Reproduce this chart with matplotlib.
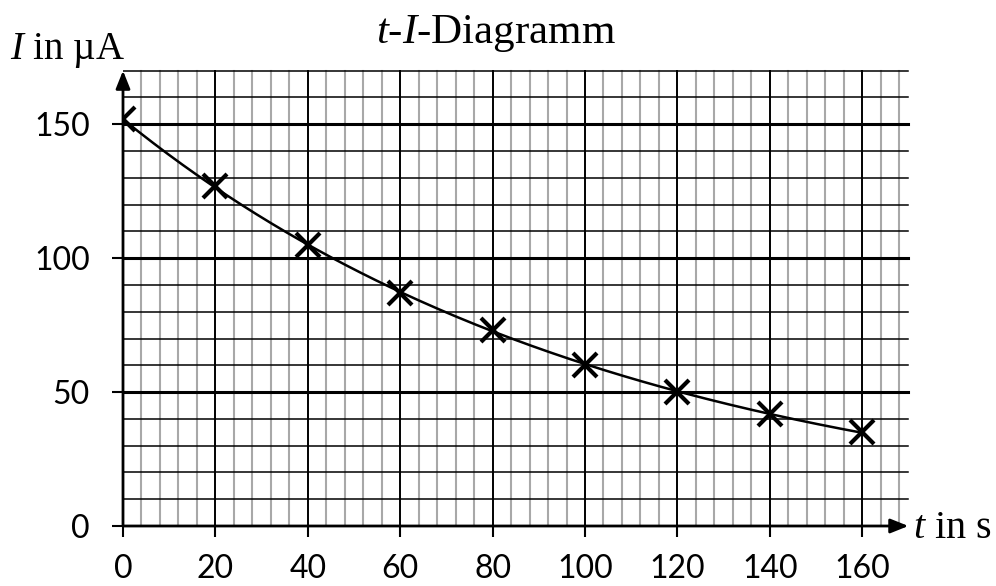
import numpy as np
import matplotlib.pyplot as plt

# measured values
t = np.array([0, 20, 40, 60, 80, 100, 120, 140, 160])
current = np.array([152, 127, 105, 87, 73, 60, 50, 42, 35])

x_ticks = np.arange(0, 161, 20)
y_ticks = [0, 50, 100, 150]

plt.rcParams['mathtext.fontset'] = 'custom'
plt.rcParams['mathtext.rm'] = 'Liberation Serif'
plt.rcParams['mathtext.it'] = 'Liberation Serif:italic'

fig = plt.figure(figsize=(9.96, 5.86), dpi=100)
ax = fig.add_axes([123 / 996, 60 / 586, 790 / 996, 458 / 586])
ax.set_xlim(0, 171)
ax.set_ylim(0, 171)

# grid: vertical lines every 4, bold every 20
for x in np.arange(4, 169, 4):
    if x % 20 == 0:
        ax.plot([x, x], [0, 170], color='black', lw=1.4, zorder=2)
    else:
        ax.plot([x, x], [0, 170], color='#a8a8a8', lw=1.5, zorder=1)
# horizontal lines every 10, thicker every 50
for y in np.arange(10, 171, 10):
    lw = 2.2 if y % 50 == 0 else 1.1
    ax.plot([0, 170], [y, y], color='black', lw=lw, zorder=1.5)

for s in ax.spines.values():
    s.set_visible(False)

# axes with arrows
arrow = dict(arrowstyle='-|>,head_length=0.9,head_width=0.36',
             mutation_scale=12, lw=2, color='black', shrinkA=0, shrinkB=0)
ax.annotate('', xy=(170, 0), xytext=(0, 0), arrowprops=arrow,
            annotation_clip=False)
ax.annotate('', xy=(0, 170), xytext=(0, 0), arrowprops=arrow,
            annotation_clip=False)

ax.set_xticks(x_ticks)
ax.set_yticks(y_ticks)
ax.tick_params(axis='both', direction='out', length=8, width=1.5,
               labelsize=23)
ax.tick_params(axis='x', pad=12)
ax.tick_params(axis='y', pad=16)
for lab in ax.get_xticklabels() + ax.get_yticklabels():
    lab.set_fontfamily('Lato')

# exponential fit through the measured points
k, b = np.polyfit(t, np.log(current), 1)
tt = np.linspace(t.min(), t.max(), 200)
ax.plot(tt, np.exp(b + k * tt), color='black', lw=1.8, zorder=4)
ax.plot(t, current, 'x', color='black', ms=17, mew=3, zorder=5)

fig.text(496 / 996, 1 - 43 / 586, r'$t$-$I$-Diagramm', ha='center',
         va='baseline', fontsize=31, fontfamily='Liberation Serif')
fig.text(10 / 996, 1 - 59 / 586, r'$I$ in µA', ha='left', va='baseline',
         fontsize=28, fontfamily='Liberation Serif')
fig.text(913 / 996, 1 - 538 / 586, r'$t$ in s', ha='left', va='baseline',
         fontsize=29, fontfamily='Liberation Serif')

fig.savefig('out.png', dpi=100)
plt.close('all')
